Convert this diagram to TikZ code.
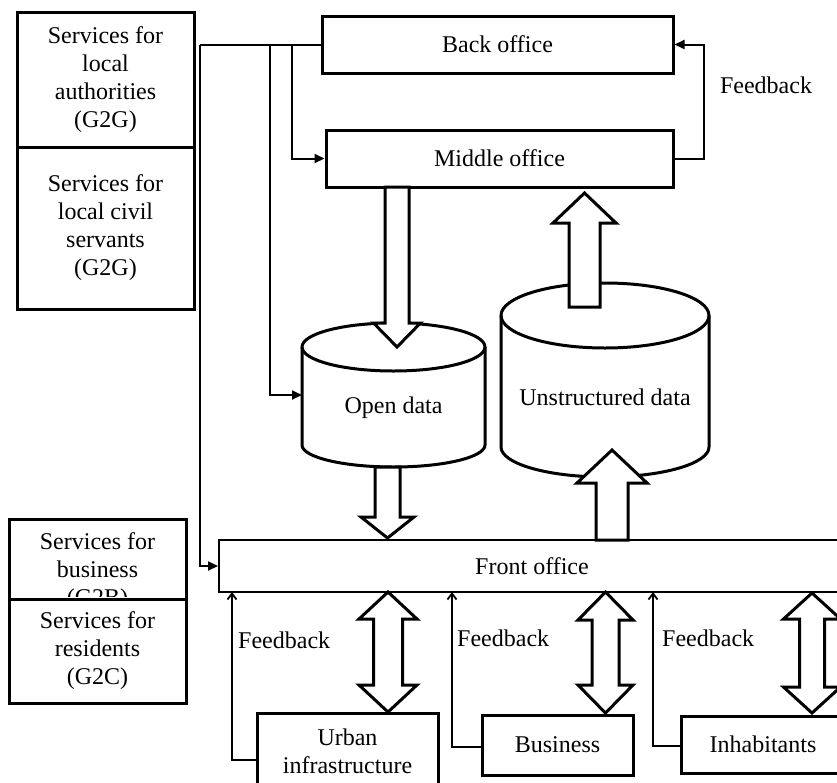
\documentclass[tikz,border=0pt]{standalone}
\usepackage{fontspec}
\setmainfont{Liberation Serif}
\usetikzlibrary{arrows.meta,calc}

% hollow block arrows: centre x, tail y, tip y, half shaft, half head, head length
\newcommand\blockdown[6]{%
  \draw[blk] ({#1-#4},{-#2}) -- ({#1-#4},{-(#3-#6)}) -- ({#1-#5},{-(#3-#6)}) -- (#1,{-#3})
    -- ({#1+#5},{-(#3-#6)}) -- ({#1+#4},{-(#3-#6)}) -- ({#1+#4},{-#2}) -- cycle;}
\newcommand\blockup[6]{%
  \draw[blk] ({#1-#4},{-#2}) -- ({#1-#4},{-(#3+#6)}) -- ({#1-#5},{-(#3+#6)}) -- (#1,{-#3})
    -- ({#1+#5},{-(#3+#6)}) -- ({#1+#4},{-(#3+#6)}) -- ({#1+#4},{-#2}) -- cycle;}
% two-headed block arrow: centre x, upper tip y, lower tip y, half shaft, half head, head length
\newcommand\blockboth[6]{%
  \draw[blk] (#1,{-#2}) -- ({#1+#5},{-(#2+#6)}) -- ({#1+#4},{-(#2+#6)}) -- ({#1+#4},{-(#3-#6)})
    -- ({#1+#5},{-(#3-#6)}) -- (#1,{-#3}) -- ({#1-#5},{-(#3-#6)}) -- ({#1-#4},{-(#3-#6)})
    -- ({#1-#4},{-(#2+#6)}) -- ({#1-#5},{-(#2+#6)}) -- cycle;}

\begin{document}
\begin{tikzpicture}[x=1pt,y=1pt,
  every node/.style={font=\fontsize{24}{28}\selectfont},
  svcbox/.style={draw, line width=3pt, fill=white, inner sep=0pt, align=center},
  office/.style={draw, line width=3pt, fill=white, inner sep=0pt, align=center},
  conn/.style={line width=2pt, -{Triangle[length=10pt,width=9pt]}},
  fb/.style={line width=1.8pt, -{Straight Barb[length=6pt,width=9pt]}},
  blk/.style={draw, line width=3pt, fill=white, line join=miter},
  cyl/.style={draw, line width=3pt, fill=white},
  lbl/.style={inner sep=0pt}
]
\useasboundingbox (0,0) rectangle (837,-782);
\clip (0,0) rectangle (837,-782);

% service boxes on the left
\node[svcbox, minimum width=177pt, minimum height=135pt] (g2ga) at (105.5,-79.5) {Services for\\local\\authorities\\(G2G)};
\node[svcbox, minimum width=177pt, minimum height=162pt] (g2gb) at (105.5,-228) {Services for\\local civil\\servants\\(G2G)};
\node[svcbox, minimum width=177pt, minimum height=80pt] (g2b) at (97.5,-559) {};
\begin{scope}
  \clip (9,-519) rectangle (186,-596);
  \node[lbl, align=center] (g2btext) at (97.5,-572) {Services for\\business\\(G2B)};
\end{scope}
\node[svcbox, minimum width=177pt, minimum height=104pt] (g2c) at (97.5,-651) {Services for\\residents\\(G2C)};

% office layers
\node[office, minimum width=351pt, minimum height=57pt] (back) at (497.5,-44.5) {Back office};
\node[office, minimum width=347pt, minimum height=57pt] (middle) at (499.5,-158.5) {Middle office};

% distribution lines from the back office
\coordinate (trunk) at (200,-44.5);
\coordinate (br1) at (270,-44.5);
\coordinate (br2) at (292,-44.5);
\coordinate (odin) at (302,-395);
\draw[line width=2pt] (back.west) -- (trunk);
\draw[conn] (br1) |- (odin);
\draw[conn] (br2) |- (middle.west);

% feedback from middle to back office
\coordinate (fbtop) at (704,-158.5);
\draw[conn] (middle.east) -- (fbtop) |- (back.east);
\node[lbl] (fbtoplabel) at (766,-85) {Feedback};

% data stores
\draw[cyl] (302,-347) -- (302,-445) arc[start angle=180,end angle=360,x radius=91.5,y radius=22]
  -- (485,-347) arc[start angle=0,end angle=180,x radius=91.5,y radius=24] -- cycle;
\draw[line width=3pt] (302,-347) arc[start angle=180,end angle=360,x radius=91.5,y radius=24];
\node[lbl] (opendata) at (393.5,-408) {Open data};

\draw[cyl] (501,-315.5) -- (501,-447) arc[start angle=180,end angle=360,x radius=104,y radius=30]
  -- (709,-315.5) arc[start angle=0,end angle=180,x radius=104,y radius=32.5] -- cycle;
\draw[line width=3pt] (501,-315.5) arc[start angle=180,end angle=360,x radius=104,y radius=32.5];
\node[lbl] (unstruct) at (605,-397) {Unstructured data};

% front office
\node[office, line width=2pt, minimum width=626pt, minimum height=52pt] (front) at (532,-566) {Front office};
\draw[conn] (trunk) |- (front.west);

% flows between layers and stores
\blockdown{397}{187}{347}{12}{23.5}{24}
\blockdown{387.5}{467}{538}{12.5}{26.5}{21}
\blockup{612}{540}{450}{16}{35}{33}
\blockup{584.5}{307}{193}{15.5}{31.5}{30}

% users
\node[office, minimum width=181pt, minimum height=76pt] (urban) at (347.5,-751) {Urban\\infrastructure};
\node[office, minimum width=151pt, minimum height=60pt] (busi) at (557.5,-745) {Business};
\node[office, minimum width=164pt, minimum height=57pt] (inhab) at (763,-744.5) {Inhabitants};

\blockboth{388}{592}{712}{14.5}{29}{27}
\blockboth{605.5}{592}{713}{13.5}{27.5}{28}
\blockboth{812}{593}{713}{12.5}{28.5}{26}

% feedback from users to the front office
\coordinate (fbu) at (232,-592);
\coordinate (fbb) at (452,-592);
\coordinate (fbi) at (653,-592);
\draw[fb] ([yshift=-9pt]urban.west) -| (fbu);
\draw[fb] ([yshift=-2pt]busi.west) -| (fbb);
\draw[fb] ([yshift=-1.5pt]inhab.west) -| (fbi);
\node[lbl, anchor=west] (fbul) at (238,-640) {Feedback};
\node[lbl, anchor=west] (fbbl) at (457,-638) {Feedback};
\node[lbl, anchor=west] (fbil) at (662,-638) {Feedback};
\end{tikzpicture}
\end{document}
